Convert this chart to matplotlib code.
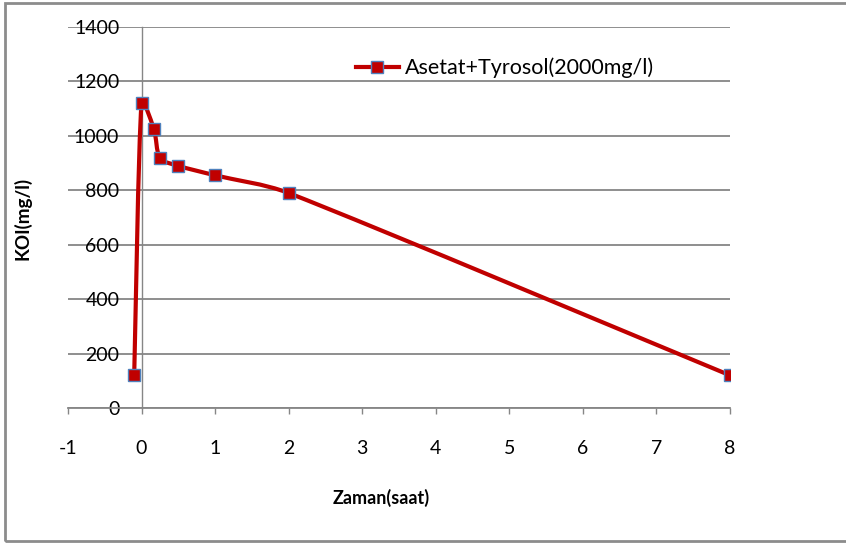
import matplotlib
matplotlib.use("Agg")
import matplotlib.pyplot as plt
from matplotlib.path import Path
from matplotlib.patches import PathPatch, Rectangle
from matplotlib.lines import Line2D
import numpy as np

plt.rcParams["axes.unicode_minus"] = False

# Data
time_h = [-0.1, 0.0, 0.167, 0.25, 0.5, 1.0, 2.0, 8.0]
koi = [120, 1120, 1025, 920, 890, 855, 790, 120]
series_name = "Asetat+Tyrosol(2000mg/l)"
x_ticks = [-1, 0, 1, 2, 3, 4, 5, 6, 7, 8]
y_ticks = [0, 200, 400, 600, 800, 1000, 1200, 1400]
x_label = "Zaman(saat)"
y_label = "KOI(mg/l)"

RED = "#C00000"
BLUE = "#4F81BD"
GRID = "#868686"
FONT = "Lato"

W, H = 846, 546
fig = plt.figure(figsize=(W / 100, H / 100), dpi=100)
ax = fig.add_axes([68 / W, 1 - 408 / H, (730 - 68) / W, (408 - 27) / H])
ax.set_xlim(-1, 8)
ax.set_ylim(0, 1400)

# smooth curve (Excel-like Bezier) through the data points, built in display space
disp = ax.transData.transform(np.column_stack([time_h, koi]).astype(float))
n = len(disp)
def clamp(v, maxlen):
    L = np.hypot(*v)
    return v if L <= maxlen or L == 0 else v * (maxlen / L)
verts = [disp[0]]
codes = [Path.MOVETO]
for i in range(n - 1):
    p0 = disp[i - 1] if i > 0 else disp[i]
    p1 = disp[i]
    p2 = disp[i + 1]
    p3 = disp[i + 2] if i + 2 < n else disp[i + 1]
    seg = np.hypot(*(p2 - p1))
    c1 = p1 + clamp((p2 - p0) / 6.0, seg / 3.0)
    c2 = p2 - clamp((p3 - p1) / 6.0, seg / 3.0)
    verts += [c1, c2, p2]
    codes += [Path.CURVE4] * 3
inv = ax.transData.inverted()
data_verts = inv.transform(np.array(verts))
curve = PathPatch(Path(data_verts, codes), facecolor="none", edgecolor=RED, lw=3.0,
                  zorder=3, capstyle="round", joinstyle="round")
ax.add_patch(curve)
ax.plot(time_h, koi, linestyle="none", marker="s", markersize=9,
        markerfacecolor=RED, markeredgecolor=BLUE, markeredgewidth=1.0, zorder=4)

ax.set_xticks(x_ticks)
ax.set_yticks(y_ticks)
ax.yaxis.grid(True, color=GRID, lw=1.3)
ax.set_axisbelow(True)

for s in ["top", "right"]:
    ax.spines[s].set_visible(False)
ax.spines["left"].set_position(("data", 0))
ax.spines["left"].set_color(GRID)
ax.spines["left"].set_linewidth(1.0)
ax.spines["bottom"].set_color(GRID)
ax.spines["bottom"].set_linewidth(1.3)

ax.tick_params(axis="y", length=0, pad=16, labelsize=14, colors="black")
ax.tick_params(axis="x", direction="out", length=4, width=1.0, color=GRID,
               pad=19, labelsize=14, colors="black")
for lab in ax.get_xticklabels() + ax.get_yticklabels():
    lab.set_fontfamily(FONT)

fig.text(381 / W, 1 - 498 / H, x_label, ha="center", va="center",
         fontsize=13, fontweight="bold", fontfamily=FONT)
fig.text(22 / W, 1 - 218 / H, y_label, ha="center", va="center", rotation=90,
         fontsize=13.5, fontweight="bold", fontfamily=FONT)

handle = Line2D([], [], color=RED, lw=3.0, marker="s", markersize=9,
                markerfacecolor=RED, markeredgecolor=BLUE, markeredgewidth=1.0)
fig.legend([handle], [series_name], loc="center left",
           bbox_to_anchor=(345 / W, 1 - 68 / H), frameon=False,
           prop={"family": FONT, "size": 15.5}, handlelength=2.0,
           handletextpad=0.3, borderpad=0)

# outer chart border
border = Rectangle((5 / W, 1 - 541 / H), 1.0, (541 - 3) / H,
                   transform=fig.transFigure, fill=False, edgecolor="#8c8c8c",
                   lw=2.0, clip_on=False)
fig.patches.append(border)

fig.savefig("out.png", dpi=100)
